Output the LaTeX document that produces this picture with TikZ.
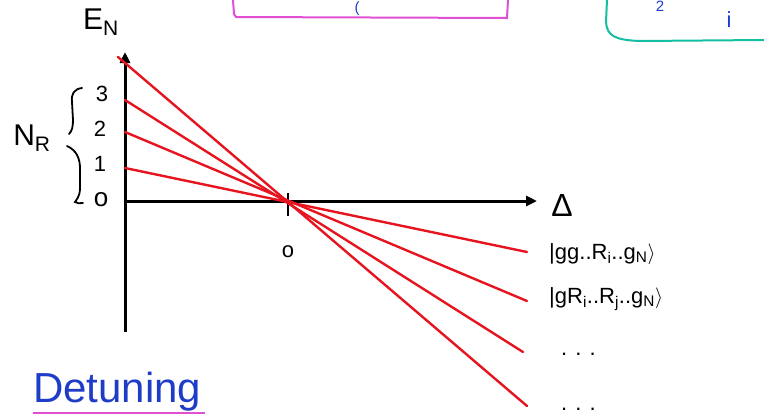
\documentclass[tikz,border=0pt]{standalone}
\usepackage{fontspec}
\setmainfont{Liberation Sans}
\usetikzlibrary{arrows.meta}
\definecolor{penred}{RGB}{230,20,30}
\definecolor{penblue}{RGB}{30,60,200}
\definecolor{penpink}{RGB}{225,80,210}
\definecolor{penteal}{RGB}{20,190,160}
\tikzset{
  axis/.style={line width=3pt,black,-{Triangle[length=11pt,width=10pt]}},
  level/.style={line width=2.4pt,penred,line cap=round},
  lbl/.style={font=\fontsize{22}{22}\selectfont,anchor=west,inner sep=0pt},
  tick/.style={font=\fontsize{22}{22}\selectfont,inner sep=0pt},
  brace/.style={line width=1.8pt,black,line cap=round},
  topmark/.style={penblue,font=\fontsize{15}{15}\selectfont,inner sep=0pt}
}
\begin{document}
\begin{tikzpicture}[x=1pt,y=-1pt]
\useasboundingbox (0,0) rectangle (764,416);
% partial boxes at top
\draw[penpink,line width=2pt] (233,0) -- (234,14) -- (236,17) -- (507,18) -- (508,0);
\node[topmark,anchor=north] (pc) at (357,1) {(};
\draw[penteal,line width=2pt] (607,0) -- (606,22) .. controls (607,36) and (615,40) .. (640,41) -- (764,40);
\node[topmark,anchor=north] (tz) at (660,1) {2};
\node[topmark,font=\fontsize{22}{22}\selectfont] (ti) at (729,20) {i};
% axes
\coordinate (O) at (125,201);
\coordinate (ytop) at (125,52);
\coordinate (ybot) at (125,332);
\coordinate (xend) at (537,201);
\draw[line width=3pt] (O) -- (ybot);
\draw[axis] (O) -- (ytop);
\draw[axis] (O) -- (xend);
\node[font=\fontsize{30}{30}\selectfont,inner sep=0pt] (EN) at (101,22) {E\textsubscript{N}};
\node[font=\fontsize{32}{32}\selectfont,inner sep=0pt] (Delta) at (562,205) {Δ};
% zero crossing
\coordinate (Z) at (287,201);
\draw[line width=2pt] (288,193) -- (288,216);
\node[tick] (zero) at (288,252) {o};
% level ticks on y axis
\node[tick] (n3) at (102,94) {3};
\node[tick] (n2) at (100,129) {2};
\node[tick] (n1) at (100,164) {1};
\node[tick,font=\fontsize{26}{26}\selectfont] (n0) at (101,200) {o};
% braces
\draw[brace] (82,88) .. controls (74,89) and (71,94) .. (72,102) -- (73,120) .. controls (73,127) and (72,131) .. (69,134);
\draw[brace] (67,146) .. controls (76,150) and (80,158) .. (80,168) -- (80,188) .. controls (80,197) and (76,200) .. (75,202) .. controls (77,204) and (80,203) .. (83,203);
\node[font=\fontsize{30}{30}\selectfont,inner sep=0pt] (NR) at (32,138) {N\textsubscript{R}};
% red lines
\coordinate (s4) at (118,57);
\coordinate (s3) at (125,100);
\coordinate (s2) at (125,132);
\coordinate (s1) at (125,168);
\coordinate (e1) at (527,252);
\coordinate (e2) at (527,301);
\coordinate (e3) at (523,352);
\coordinate (e4) at (527,406);
\draw[level] (s1) -- (e1);
\draw[level] (s2) -- (e2);
\draw[level] (s3) -- (e3);
\draw[level] (s4) -- (e4);
% state labels
\node[lbl] (l1) at (549,254) {|gg..R\textsubscript{i}..g\textsubscript{N}$\rangle$};
\node[lbl] (l2) at (549,299) {|gR\textsubscript{i}..R\textsubscript{j}..g\textsubscript{N}$\rangle$};
\node[lbl] (l3) at (561,354) {. . .};
\node[lbl] (l4) at (561,409) {. . .};
% Detuning
\node[penblue,font=\fontsize{42}{42}\selectfont,anchor=south west,inner sep=0pt] (det) at (33,411) {Detuning};
\draw[penpink,line width=2pt] (33,413) -- (205,413);
\end{tikzpicture}
\end{document}
